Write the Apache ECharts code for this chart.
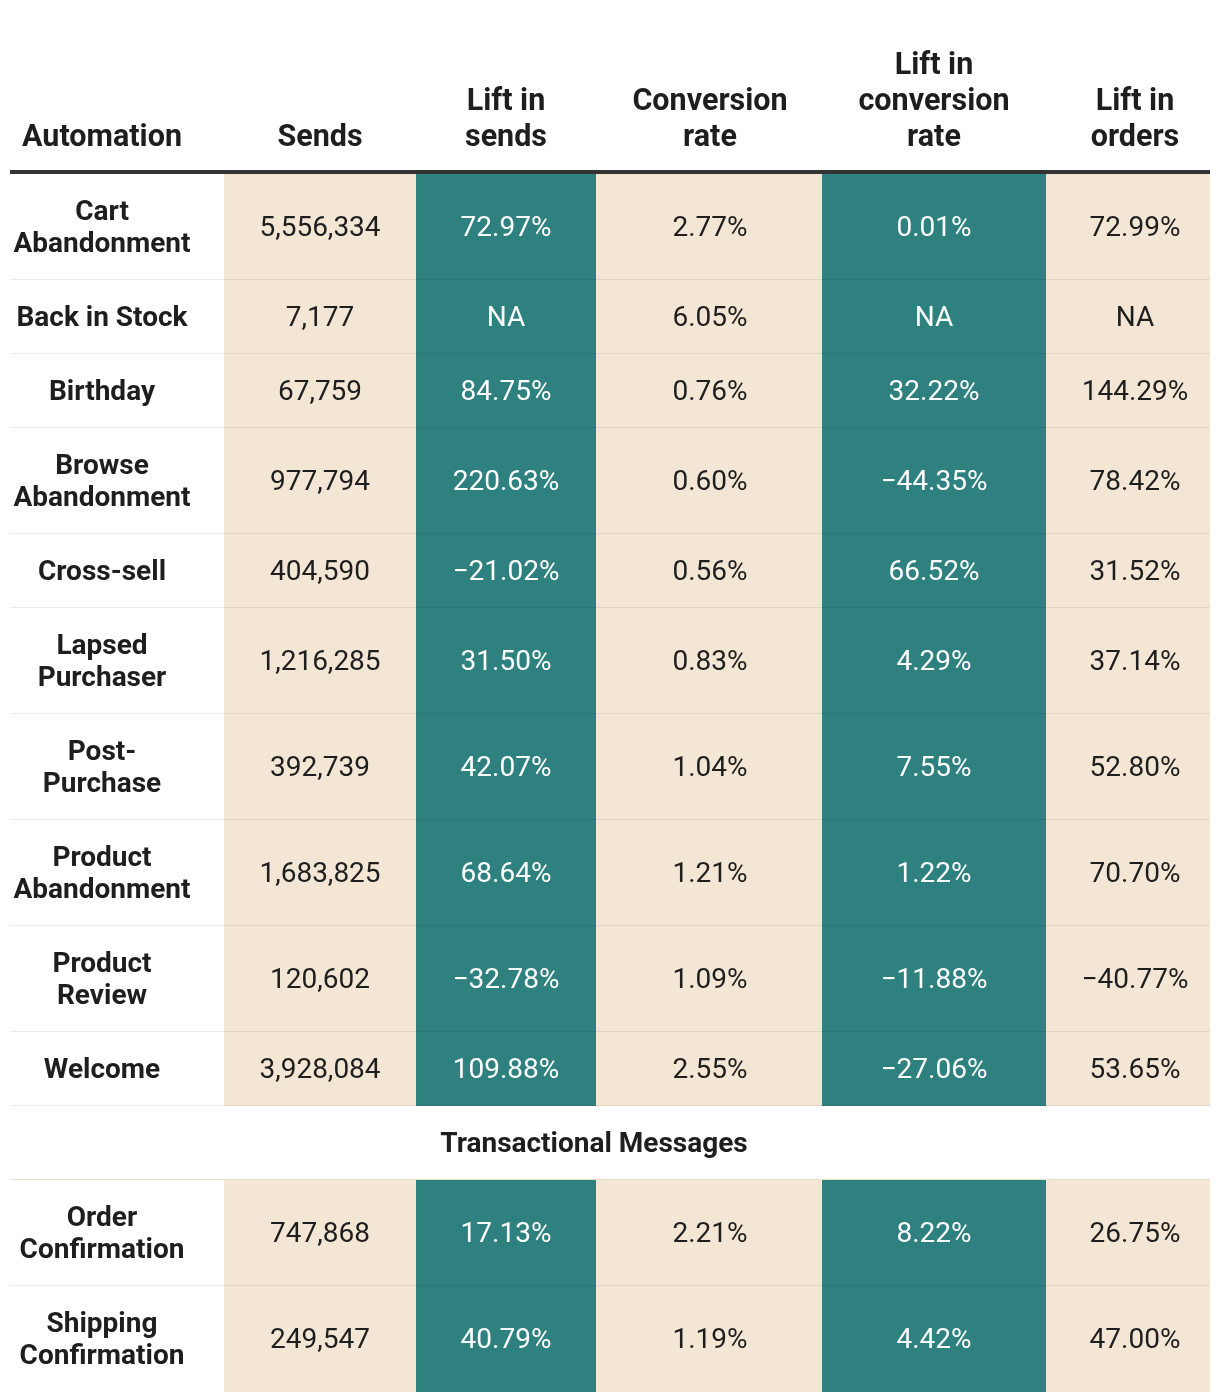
<!DOCTYPE html>
<html>
<head>
<meta charset="utf-8">
<script src="https://cdn.jsdelivr.net/npm/echarts@6/dist/echarts.min.js"></script>
<style>
html,body{margin:0;padding:0;background:#fff;}
#chart{width:1220px;height:1400px;}
</style>
</head>
<body>
<div id="chart"></div>
<script>
// ---------- DATA ----------
const headers = ['Automation', 'Sends', 'Lift in\nsends', 'Conversion\nrate', 'Lift in\nconversion\nrate', 'Lift in\norders'];
const sectionTitle = 'Transactional Messages';
const automations = ['Cart\nAbandonment', 'Back in Stock', 'Birthday', 'Browse\nAbandonment', 'Cross-sell',
  'Lapsed\nPurchaser', 'Post-\nPurchase', 'Product\nAbandonment', 'Product\nReview', 'Welcome'];
const transactional = ['Order\nConfirmation', 'Shipping\nConfirmation'];
const sends = [5556334, 7177, 67759, 977794, 404590, 1216285, 392739, 1683825, 120602, 3928084, 747868, 249547];
const liftSends = [72.97, null, 84.75, 220.63, -21.02, 31.50, 42.07, 68.64, -32.78, 109.88, 17.13, 40.79];
const convRate = [2.77, 6.05, 0.76, 0.60, 0.56, 0.83, 1.04, 1.21, 1.09, 2.55, 2.21, 1.19];
const liftConv = [0.01, null, 32.22, -44.35, 66.52, 4.29, 7.55, 1.22, -11.88, -27.06, 8.22, 4.42];
const liftOrders = [72.99, null, 144.29, 78.42, 31.52, 37.14, 52.80, 70.70, -40.77, 53.65, 26.75, 47.00];

// ---------- LAYOUT / STYLE ----------
const colWidths = [214, 192, 180, 226, 224, 164];
const textShift = [-15, 0, 0, 1, 0, 7];
const sectionCenter = 584;
const colFills = ['#ffffff', '#f3e6d4', '#2e817f', '#f3e6d4', '#2e817f', '#f3e6d4'];
const colText = ['#1e1e1e', '#1e1e1e', '#ffffff', '#1e1e1e', '#ffffff', '#1e1e1e'];
const bodyTop = 174;
const FONT = 'Roboto, "Noto Sans", sans-serif';

const colEdges = [0];
colWidths.forEach(w => colEdges.push(colEdges[colEdges.length - 1] + w));

function fmtPct(v) {
  if (v === null) return 'NA';
  const s = Math.abs(v).toFixed(2) + '%';
  return v < 0 ? '\u2212' + s : s;
}
function fmtNum(v) { return v.toLocaleString('en-US'); }

const rows = [];
automations.forEach((n, i) => rows.push({ type: 'data', label: n, idx: i }));
rows.push({ type: 'section', label: sectionTitle });
transactional.forEach((n, i) => rows.push({ type: 'data', label: n, idx: automations.length + i }));

const rowTops = [bodyTop];
rows.forEach(r => {
  const lines = r.label.split('\n').length;
  const h = r.type === 'section' ? 74 : (lines === 2 ? 106 : 74);
  rowTops.push(rowTops[rowTops.length - 1] + h);
});

const cells = [];
rows.forEach((r, ri) => {
  if (r.type === 'section') {
    cells.push({ col: 0, span: 6, row: ri, text: r.label, section: true });
    return;
  }
  const i = r.idx;
  const vals = [r.label, fmtNum(sends[i]), fmtPct(liftSends[i]), fmtPct(convRate[i]), fmtPct(liftConv[i]), fmtPct(liftOrders[i])];
  vals.forEach((t, c) => cells.push({ col: c, span: 1, row: ri, text: t }));
});

const chart = echarts.init(document.getElementById('chart'), null, { renderer: 'canvas' });

function renderCell(params, api) {
  const cell = cells[params.dataIndex];
  const c = api.value(0), r = api.value(1);
  const x0 = colEdges[c], x1 = colEdges[c + cell.span];
  const y0 = rowTops[r], y1 = rowTops[r + 1];
  const p0 = api.coord([x0, y0]), p1 = api.coord([x1, y1]);
  const w = p1[0] - p0[0], h = p1[1] - p0[1];
  const children = [];
  const fill = cell.section ? '#ffffff' : colFills[c];
  children.push({ type: 'rect', shape: { x: p0[0], y: p0[1], width: w, height: h }, style: { fill: fill } });
  const isLast = r === rows.length - 1;
  if (!isLast) {
    children.push({ type: 'line', shape: { x1: p0[0], y1: p1[1], x2: p1[0], y2: p1[1] },
      style: { stroke: cell.section ? '#e9dfcf' : 'rgba(0,0,0,0.075)', lineWidth: 2 } });
  }
  let font, color, lh, cx;
  if (cell.section) {
    font = 'bold 28px ' + FONT; color = '#1e1e1e'; lh = 32;
    cx = api.coord([sectionCenter, y0])[0];
  } else {
    cx = p0[0] + w / 2 + textShift[c];
    if (c === 0) { font = 'bold 28px ' + FONT; color = colText[0]; lh = 32; }
    else { font = '28px ' + FONT; color = colText[c]; lh = 32; }
  }
  children.push({ type: 'text', x: cx, y: p0[1] + h / 2 + 2,
    style: { text: cell.text, font: font, fill: color, align: 'center', verticalAlign: 'middle', lineHeight: lh } });
  return { type: 'group', children: children };
}

function renderHeader(params, api) {
  const c = api.value(0);
  const x0 = colEdges[c], x1 = colEdges[c + 1];
  const p0 = api.coord([x0, 156]), p1 = api.coord([x1, 156]);
  return { type: 'text', x: (p0[0] + p1[0]) / 2 + textShift[c], y: p0[1],
    style: { text: headers[c], font: 'bold 30.5px ' + FONT, fill: '#1e1e1e', align: 'center', verticalAlign: 'bottom', lineHeight: 36 } };
}

function renderRule(params, api) {
  const a = api.coord([colEdges[0], 172]), b = api.coord([colEdges[colEdges.length - 1], 172]);
  return { type: 'line', shape: { x1: a[0], y1: a[1], x2: b[0], y2: b[1] }, style: { stroke: '#333333', lineWidth: 4 } };
}

chart.setOption({
  animation: false,
  backgroundColor: '#ffffff',
  grid: { left: 10, right: 10, top: 0, bottom: 0 },
  xAxis: { type: 'value', min: 0, max: colEdges[colEdges.length - 1], show: false },
  yAxis: { type: 'value', min: 0, max: 1400, inverse: true, show: false },
  series: [
    { type: 'custom', renderItem: renderCell, data: cells.map(c => [c.col, c.row]), encode: { x: 0, y: 1 }, silent: true },
    { type: 'custom', renderItem: renderHeader, data: headers.map((h, i) => [i, 0]), encode: { x: 0, y: 1 }, silent: true },
    { type: 'custom', renderItem: renderRule, data: [[0, 0]], encode: { x: 0, y: 1 }, silent: true }
  ]
});
</script>
</body>
</html>
